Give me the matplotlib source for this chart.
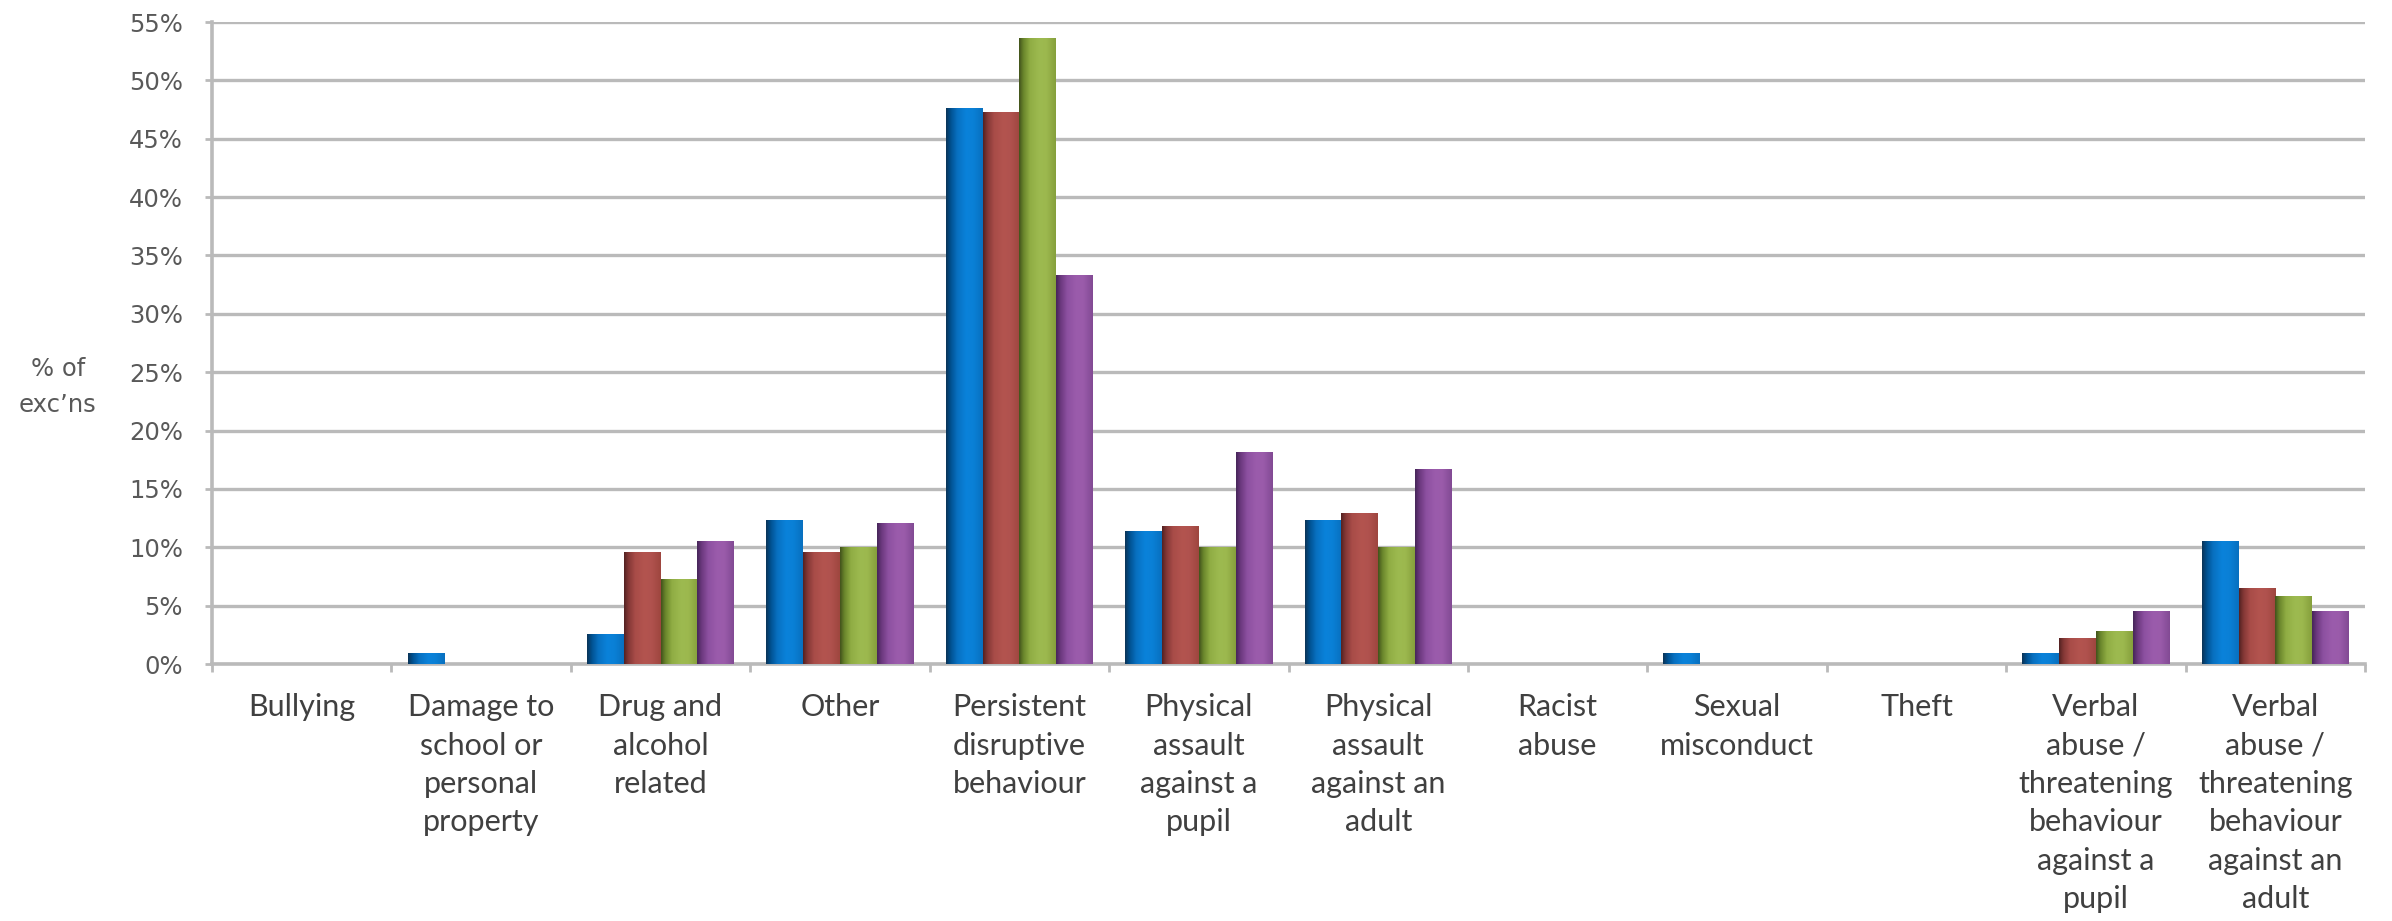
import numpy as np
import matplotlib
matplotlib.use("Agg")
import matplotlib.pyplot as plt
from matplotlib.colors import to_rgb

categories = [
    "Bullying",
    "Damage to\nschool or\npersonal\nproperty",
    "Drug and\nalcohol\nrelated",
    "Other",
    "Persistent\ndisruptive\nbehaviour",
    "Physical\nassault\nagainst a\npupil",
    "Physical\nassault\nagainst an\nadult",
    "Racist\nabuse",
    "Sexual\nmisconduct",
    "Theft",
    "Verbal\nabuse /\nthreatening\nbehaviour\nagainst a\npupil",
    "Verbal\nabuse /\nthreatening\nbehaviour\nagainst an\nadult",
]

# % of exclusions per category, one list per year series
series_blue = [0.0, 0.9, 2.6, 12.3, 47.6, 11.4, 12.3, 0.0, 0.9, 0.0, 0.9, 10.5]
series_red = [0.0, 0.0, 9.6, 9.6, 47.3, 11.8, 12.9, 0.0, 0.0, 0.0, 2.2, 6.5]
series_green = [0.0, 0.0, 7.3, 10.0, 53.6, 10.0, 10.0, 0.0, 0.0, 0.0, 2.8, 5.8]
series_purple = [0.0, 0.0, 10.5, 12.1, 33.3, 18.2, 16.7, 0.0, 0.0, 0.0, 4.5, 4.5]

y_ticks = list(range(0, 56, 5))

# cylinder shading: dark left edge, bright middle, slightly darker right edge
shades = {
    "blue": ["#0b3558", "#00508f", "#0870c0", "#0a82da", "#0a80d6", "#0870bf"],
    "red": ["#552222", "#843836", "#a84c48", "#b3544f", "#b0524e", "#9e463f"],
    "green": ["#43541c", "#6b872c", "#90ad44", "#9dba50", "#9cb84e", "#86a03c"],
    "purple": ["#47265a", "#6b387e", "#8c50a0", "#9b5cac", "#9a5baa", "#824a94"],
}
shade_pos = [0.0, 0.12, 0.3, 0.55, 0.75, 1.0]


def gradient(cols, n=64):
    rgb = np.array([to_rgb(c) for c in cols])
    xs = np.linspace(0, 1, n)
    img = np.stack([np.interp(xs, shade_pos, rgb[:, k]) for k in range(3)], axis=-1)
    return img[None, :, :]


fig = plt.figure(figsize=(23.92, 9.21), dpi=100)
ax = fig.add_axes([212 / 2392, 257 / 921, 2153 / 2392, 642 / 921])

x = np.arange(len(categories))
bw = 0.205
all_series = [series_blue, series_red, series_green, series_purple]
names = ["blue", "red", "green", "purple"]

for i, (vals, name) in enumerate(zip(all_series, names)):
    bars = ax.bar(x + (i - 1.5) * bw, vals, bw, color=shades[name][3],
                  linewidth=0, zorder=3)
    img = gradient(shades[name])
    for rect in bars:
        h = rect.get_height()
        if h <= 0:
            continue
        x0 = rect.get_x()
        im = ax.imshow(img, extent=[x0, x0 + rect.get_width(), 0, h],
                       aspect="auto", interpolation="bilinear", zorder=4)
        im.set_clip_path(rect)

ax.set_xlim(-0.5, len(categories) - 0.5)
ax.set_ylim(0, 55)

for s in ["top", "right"]:
    ax.spines[s].set_visible(False)
for s in ["left", "bottom"]:
    ax.spines[s].set_color("#bababa")
    ax.spines[s].set_linewidth(2.6)

ax.set_yticks(y_ticks)
ax.set_yticklabels([f"{v}%" for v in y_ticks], fontsize=17.5, color="#595959",
                   family="DejaVu Sans")
ax.yaxis.grid(True, color="#bababa", linewidth=2.4, zorder=0)
ax.set_axisbelow(True)
ax.tick_params(axis="y", length=5, width=2, color="#bababa", pad=16)

ax.set_xticks(x)
ax.set_xticklabels(categories, fontsize=22, color="#404040", family="Lato",
                   linespacing=1.45)
ax.tick_params(axis="x", which="major", length=0, pad=21)
ax.set_xticks(np.arange(len(categories) + 1) - 0.5, minor=True)
ax.tick_params(axis="x", which="minor", length=6, width=2, color="#bababa")

fig.text(58 / 2392, 1 - 387 / 921, "% of\nexc\u2019ns", ha="center", va="center",
         fontsize=17.5, color="#595959", linespacing=1.6, family="DejaVu Sans")

fig.savefig("out.png", dpi=100)
